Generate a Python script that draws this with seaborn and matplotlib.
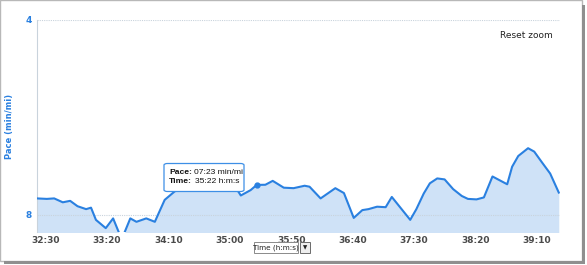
import matplotlib
matplotlib.use("Agg")
import matplotlib.pyplot as plt
import seaborn as sns
import pandas as pd
from matplotlib.patches import FancyBboxPatch, Rectangle
from matplotlib.text import Annotation
from matplotlib.ticker import FixedLocator, FuncFormatter

# ---- data (time in seconds, pace in min/mi) ----
time_s = [1943, 1951, 1957, 1964, 1970, 1976, 1983, 1987, 1991, 1999, 2005, 2012,
          2019, 2024, 2032, 2035, 2039, 2042, 2047, 2055, 2062, 2068, 2076, 2084,
          2092, 2100, 2107, 2109, 2117, 2122, 2129, 2135, 2144, 2152, 2161, 2165,
          2174, 2186, 2193, 2201, 2208, 2213, 2220, 2227, 2232, 2247, 2252, 2258,
          2263, 2269, 2275, 2282, 2289, 2294, 2301, 2307, 2314, 2326, 2330, 2335,
          2343, 2348, 2354, 2361, 2368]
pace = [7.66, 7.67, 7.66, 7.74, 7.71, 7.82, 7.88, 7.85, 8.10, 8.27, 8.07, 8.50,
        8.07, 8.14, 8.07, 8.10, 8.14, 7.97, 7.69, 7.52, 7.40, 7.40, 7.40, 7.42,
        7.39, 7.41, 7.52, 7.60, 7.49, 7.383, 7.38, 7.30, 7.44, 7.45, 7.40, 7.42,
        7.66, 7.45, 7.55, 8.06, 7.90, 7.88, 7.83, 7.84, 7.63, 8.10, 7.88, 7.56,
        7.35, 7.25, 7.27, 7.47, 7.61, 7.67, 7.68, 7.64, 7.21, 7.37, 7.01, 6.79,
        6.63, 6.70, 6.91, 7.15, 7.54]
x_ticks = [1950, 2000, 2050, 2100, 2150, 2200, 2250, 2300, 2350]
y_ticks = [4, 8]

df = pd.DataFrame({"time": time_s, "pace": pace})

W, H = 587, 265
fig = plt.figure(figsize=(W / 100, H / 100), dpi=100)
fig.patch.set_facecolor("white")

# frame and shadow of the screenshot
fig.add_artist(Rectangle((0.0, 1 - 261 / H), 582 / W, 261 / H, transform=fig.transFigure,
                         facecolor="white", edgecolor="#b8b8b8", linewidth=1.0, zorder=0))
fig.add_artist(Rectangle((582 / W, 1 - 264 / H), 3 / W, 259 / H, transform=fig.transFigure,
                         facecolor="#8f8f8f", edgecolor="none", zorder=0))
fig.add_artist(Rectangle((4 / W, 1 - 264 / H), 581 / W, 3 / H, transform=fig.transFigure,
                         facecolor="#8f8f8f", edgecolor="none", zorder=0))

left, right, top, bottom = 37, 560, 20, 232
ax = fig.add_axes([left / W, 1 - bottom / H, (right - left) / W, (bottom - top) / H])
ax.set_facecolor("none")

line_color = "#2a80e0"
fill_color = "#cfe2f7"

ax.fill_between(df["time"], df["pace"], 9.5, color=fill_color, linewidth=0, zorder=1)
sns.lineplot(data=df, x="time", y="pace", ax=ax, color=line_color, linewidth=1.5, zorder=3)

ax.set_xlim(1943, 2369)
ax.set_ylim(8.349, 4)

# gridlines
for v in y_ticks:
    ax.axhline(v, color="#c9d3dc", linestyle=(0, (1, 1)), linewidth=0.8, zorder=2)

for s in ["top", "right", "bottom"]:
    ax.spines[s].set_visible(False)
ax.spines["left"].set_color("#c9d3dc")
ax.spines["left"].set_linestyle((0, (1, 1)))
ax.spines["left"].set_linewidth(0.8)

ax.xaxis.set_major_locator(FixedLocator(x_ticks))
ax.xaxis.set_major_formatter(FuncFormatter(lambda v, p: f"{int(v)//60}:{int(v)%60:02d}"))
ax.yaxis.set_major_locator(FixedLocator(y_ticks))
ax.yaxis.set_major_formatter(FuncFormatter(lambda v, p: f"{int(v)}"))
ax.tick_params(axis="x", length=0, pad=3, labelsize=6.5, labelcolor="#4a4a4a")
ax.tick_params(axis="y", length=0, pad=4, labelsize=6.5, labelcolor="#2a80e0")
for lab in ax.get_xticklabels() + ax.get_yticklabels():
    lab.set_fontweight("bold")

ax.set_xlabel("")
ax.set_ylabel("Pace (min/mi)", color="#2a80e0", fontsize=6, fontweight="bold", labelpad=8)

# hover marker
ax.plot([2122], [7.383], marker="o", markersize=3.5, color=line_color, zorder=4)

# Reset zoom
fig.text(526 / W, 1 - 35 / H, "Reset zoom", fontsize=6.5, color="#222222",
         ha="center", va="center")

# tooltip
tip = FancyBboxPatch((164 / W, 1 - 191.5 / H), 80 / W, 28 / H,
                     boxstyle="round,pad=0,rounding_size=0.006", transform=fig.transFigure,
                     facecolor="white", edgecolor="#3d8fe6", linewidth=0.9, zorder=10)
fig.add_artist(tip)
tfs = 6.1
tfam = "Liberation Sans"
t1 = fig.text(169 / W, 1 - 172 / H, "Pace:", fontsize=tfs, fontweight="bold", color="#111111",
              family=tfam, va="center", ha="left", zorder=11)
fig.add_artist(Annotation("07:23 min/mi", xy=(1, 0.5), xycoords=t1, xytext=(1.5, 0),
                          textcoords="offset points", fontsize=tfs, color="#111111",
                          family=tfam, va="center", ha="left", zorder=11))
t2 = fig.text(169 / W, 1 - 181.5 / H, "Time:", fontsize=tfs, fontweight="bold", color="#111111",
              family=tfam, va="center", ha="left", zorder=11)
fig.add_artist(Annotation("35:22 h:m:s", xy=(1, 0.5), xycoords=t2, xytext=(2.5, 0),
                          textcoords="offset points", fontsize=tfs, color="#111111",
                          family=tfam, va="center", ha="left", zorder=11))

# dropdown "Time (h:m:s)"
fig.add_artist(Rectangle((254 / W, 1 - 253 / H), 44 / W, 11 / H, transform=fig.transFigure,
                         facecolor="white", edgecolor="#8a8a8a", linewidth=0.7))
fig.text(276 / W, 1 - 247.5 / H, "Time (h:m:s)", fontsize=5.2, color="#222222",
         ha="center", va="center")
fig.add_artist(Rectangle((300 / W, 1 - 253 / H), 10 / W, 11 / H, transform=fig.transFigure,
                         facecolor="#eeeeee", edgecolor="#6a6a6a", linewidth=0.7))
fig.text(305 / W, 1 - 248 / H, "▼", fontsize=4, color="#222222", ha="center", va="center")

fig.savefig("out.png", dpi=100)
